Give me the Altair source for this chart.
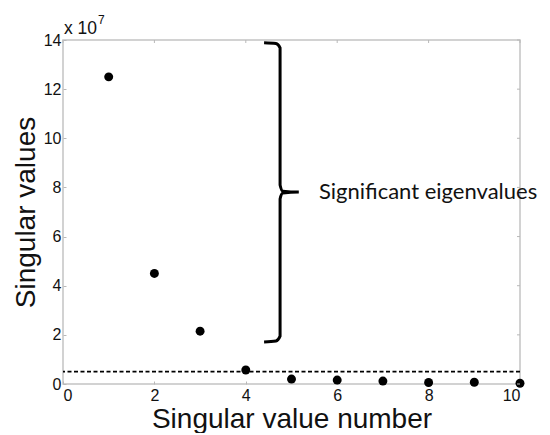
import altair as alt
import pandas as pd

# Data
sv_number = [1, 2, 3, 4, 5, 6, 7, 8, 9, 10]
sv_values = [12.5e7, 4.5e7, 2.15e7, 0.57e7, 0.2e7, 0.16e7, 0.12e7, 0.06e7, 0.07e7, 0.03e7]
threshold = [0.5e7]

# Brace annotation path (data coordinates)
brace_x = [4.40, 4.66, 4.75, 4.75, 4.81, 5.16, 4.81, 4.75, 4.75, 4.66, 4.40]
brace_y = [13.89e7, 13.86e7, 13.68e7, 8.10e7, 7.85e7, 7.81e7, 7.77e7, 7.53e7, 1.95e7, 1.75e7, 1.71e7]
brace_label = ["Significant eigenvalues"]
brace_label_x = [5.6]
brace_label_y = [7.8e7]

x_ticks = [0, 2, 4, 6, 8, 10]
y_ticks = [0, 2e7, 4e7, 6e7, 8e7, 10e7, 12e7, 14e7]

W, H = 457, 344

pts = pd.DataFrame({"n": sv_number, "v": sv_values})
thr = pd.DataFrame({"v": threshold})
brace = pd.DataFrame({"x": brace_x, "y": brace_y, "o": list(range(len(brace_x)))})
lab = pd.DataFrame({"x": brace_label_x, "y": brace_label_y, "t": brace_label})
xt = pd.DataFrame({"x": x_ticks})
yt = pd.DataFrame({"y": y_ticks})

xscale = alt.Scale(domain=[0, 10], nice=False, zero=False)
yscale = alt.Scale(domain=[0, 14e7], nice=False)

TICK = "#b8b8b8"
axis_common = dict(domain=False, tickColor=TICK, tickSize=3, offset=-3,
                   grid=False, labelFont="Liberation Sans", labelFontSize=16,
                   labelColor="#111111", titleFont="Liberation Sans",
                   titleFontSize=28, titleFontWeight="normal", titleColor="#111111")

xaxis = alt.Axis(values=x_ticks, title="Singular value number", labelPadding=3,
                 titlePadding=2, **axis_common)
yaxis = alt.Axis(values=y_ticks, title="Singular values", labelExpr="datum.value/1e7",
                 labelPadding=2, titlePadding=3, **axis_common)

points = alt.Chart(pts).mark_circle(size=80, color="black", opacity=1).encode(
    x=alt.X("n:Q", scale=xscale, axis=xaxis),
    y=alt.Y("v:Q", scale=yscale, axis=yaxis),
)

top_ticks = alt.Chart(xt).mark_rule(color=TICK, strokeWidth=1).encode(
    x=alt.X("x:Q", scale=xscale), y=alt.value(0), y2=alt.value(3)
)
right_ticks = alt.Chart(yt).mark_rule(color=TICK, strokeWidth=1).encode(
    y=alt.Y("y:Q", scale=yscale), x=alt.value(W - 3), x2=alt.value(W)
)

dash = alt.Chart(thr).mark_rule(color="black", strokeDash=[4, 2.5], strokeWidth=1.7).encode(
    y=alt.Y("v:Q", scale=yscale)
)

brace_line = alt.Chart(brace).mark_line(color="black", strokeWidth=3, interpolate="monotone").encode(
    x=alt.X("x:Q", scale=xscale), y=alt.Y("y:Q", scale=yscale), order="o:O"
)

brace_text = alt.Chart(lab).mark_text(align="left", baseline="middle", font="Lato", fontSize=22,
                                      color="#111111").encode(
    x=alt.X("x:Q", scale=xscale), y=alt.Y("y:Q", scale=yscale), text="t:N"
)

exp_base = alt.Chart(pd.DataFrame({"t": ["x 10"]})).mark_text(
    align="left", baseline="alphabetic", font="Liberation Sans", fontSize=17.5, color="#111111"
).encode(x=alt.value(1), y=alt.value(-6), text="t:N")
exp_sup = alt.Chart(pd.DataFrame({"t": ["7"]})).mark_text(
    align="left", baseline="alphabetic", font="Liberation Sans", fontSize=12, color="#111111"
).encode(x=alt.value(35), y=alt.value(-16), text="t:N")

chart = alt.layer(points, top_ticks, right_ticks, dash, brace_line, brace_text, exp_base, exp_sup).properties(
    width=W, height=H, padding={"left": 4, "top": 6, "right": 0, "bottom": 0}
).configure_view(stroke="#c4c4c4", strokeWidth=1.5)

chart.save("out.html", embed_options={"renderer": "svg", "actions": False})
